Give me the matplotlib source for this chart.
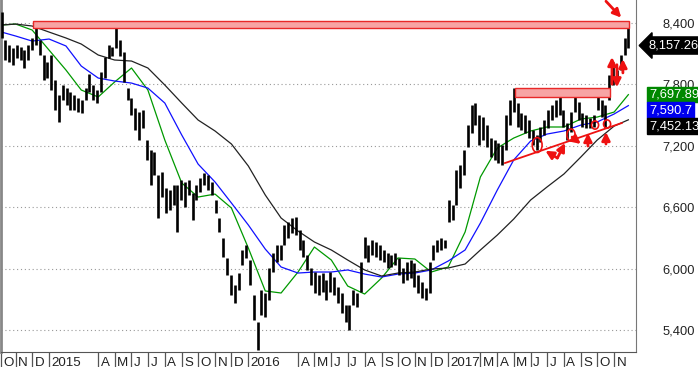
import matplotlib
matplotlib.use('Agg')
import matplotlib.pyplot as plt
import matplotlib.dates as mdates
import matplotlib.transforms as mtransforms
from matplotlib.patches import Rectangle, Ellipse
import pandas as pd

plt.rcParams['font.family'] = ['Liberation Sans', 'DejaVu Sans']

# weekly high / low of the index
bar_dates = pd.date_range('2014-10-06', periods=165, freq='7D')
highs = [8505, 8231, 8183, 8153, 8183, 8163, 8134, 8183, 8251, 8407,
         8231, 8085, 8017, 8085, 7841, 7694, 7792, 7763, 7724, 7694,
         7665, 7646, 7763, 7900, 7792, 7743, 7919, 8065, 8183, 8163,
         8349, 8231, 8114, 7763, 7665, 7567, 7528, 7548, 7255, 7157,
         7138, 6913, 6943, 6787, 6767, 6816, 6816, 6865, 6845, 6865,
         6738, 6816, 6884, 6933, 6913, 6845, 6669, 6494, 6298, 6103,
         5937, 5840, 5957, 6181, 6230, 6084, 5742, 5478, 5791, 5762,
         6006, 6152, 6230, 6230, 6425, 6455, 6494, 6504, 6376, 6279,
         6132, 6006, 5966, 5937, 5957, 5888, 5966, 5918, 5820, 5761,
         5644, 5644, 5791, 5762, 6064, 6308, 6230, 6279, 6259, 6230,
         6181, 6152, 6132, 6152, 6103, 6006, 6064, 6084, 6054, 5937,
         5869, 5810, 6064, 6230, 6279, 6298, 6279, 6669, 6620, 6962,
         7011, 7157, 7402, 7597, 7616, 7499, 7479, 7402, 7275, 7255,
         7226, 7206, 7499, 7646, 7763, 7616, 7519, 7499, 7450, 7353,
         7304, 7382, 7450, 7548, 7597, 7646, 7675, 7548, 7421, 7528,
         7675, 7626, 7519, 7499, 7470, 7499, 7714, 7646, 7597, 7890,
         8017, 7939, 8085, 8251, 8349]
lows = [8251, 8036, 8017, 7987, 8056, 8036, 7958, 8036, 8134, 8183,
        8085, 7841, 7860, 7743, 7548, 7431, 7646, 7597, 7548, 7548,
        7528, 7519, 7646, 7724, 7646, 7616, 7724, 7860, 8056, 8075,
        8153, 8075, 7821, 7646, 7499, 7353, 7255, 7372, 7060, 6816,
        6913, 6494, 6699, 6542, 6572, 6620, 6357, 6669, 6601, 6718,
        6474, 6669, 6747, 6816, 6767, 6718, 6542, 6357, 6113, 5937,
        5742, 5664, 5791, 6035, 6103, 5840, 5498, 5205, 5547, 5527,
        5693, 5966, 6064, 6084, 6230, 6298, 6347, 6328, 6181, 6113,
        5986, 5840, 5761, 5742, 5771, 5693, 5771, 5742, 5664, 5566,
        5478, 5400, 5644, 5625, 5771, 6103, 6064, 6132, 6113, 6084,
        6064, 6006, 6015, 6035, 5937, 5860, 5888, 5908, 5820, 5761,
        5713, 5693, 5761, 6084, 6162, 6181, 6201, 6455, 6474, 6620,
        6787, 6913, 7187, 7323, 7402, 7206, 7255, 7187, 7089, 7060,
        7031, 7011, 7157, 7402, 7528, 7382, 7353, 7323, 7275, 7206,
        7157, 7235, 7304, 7372, 7450, 7479, 7499, 7382, 7255, 7333,
        7528, 7450, 7382, 7372, 7372, 7382, 7548, 7479, 7382, 7646,
        7792, 7821, 7939, 8085, 8153]
last_close = 8157.26

# moving averages, sampled at month starts
ma_dates = pd.DatetimeIndex([pd.Timestamp('2014-10-06')]).append(
    pd.date_range('2014-11-01', '2017-11-01', freq='MS')).append(
    pd.DatetimeIndex([pd.Timestamp('2017-11-27')]))
ma_short = [8378, 8387, 8329, 8133, 7938, 7743, 7675, 7821, 7958, 7743,
            7255, 6835, 6698, 6727, 6591, 6200, 5781, 5761, 5966, 6210,
            6083, 5829, 5751, 5907, 6103, 6093, 5966, 6015, 6357, 6894,
            7177, 7274, 7343, 7382, 7382, 7460, 7479, 7528, 7697.89]
ma_mid = [8309, 8270, 8221, 8241, 8173, 7977, 7860, 7831, 7811, 7762,
          7616, 7304, 7020, 6845, 6640, 6425, 6190, 6015, 5956, 5966,
          5966, 5986, 5946, 5917, 5946, 5956, 5986, 6073, 6181, 6444,
          6767, 7060, 7245, 7313, 7343, 7401, 7431, 7509, 7590.7]
ma_long = [8378, 8387, 8368, 8309, 8251, 8192, 8085, 8036, 8026, 7958,
           7792, 7616, 7450, 7343, 7216, 7001, 6718, 6493, 6366, 6259,
           6181, 6083, 5986, 5927, 5956, 5966, 5995, 6005, 6044, 6181,
           6327, 6483, 6669, 6796, 6923, 7089, 7255, 7391, 7452.13]
tag_texts = ['7,697.89', '7,590.7', '7,452.13']

# x axis month boxes
month_ticks = ['2014-10-05', '2014-11-01', '2014-12-01', '2015-01-01', '2015-04-01',
               '2015-05-01', '2015-06-01', '2015-07-01', '2015-08-01', '2015-09-01',
               '2015-10-01', '2015-11-01', '2015-12-01', '2016-01-01', '2016-04-01',
               '2016-05-01', '2016-06-01', '2016-07-01', '2016-08-01', '2016-09-01',
               '2016-10-01', '2016-11-01', '2016-12-01', '2017-01-01', '2017-03-01',
               '2017-04-01', '2017-05-01', '2017-06-01', '2017-07-01', '2017-08-01',
               '2017-09-01', '2017-10-01', '2017-11-01']
month_labels = ['O', 'N', 'D', '2015', 'A', 'M', 'J', 'J', 'A', 'S', 'O', 'N', 'D',
                '2016', 'A', 'M', 'J', 'J', 'A', 'S', 'O', 'N', 'D',
                '2017', 'M', 'A', 'M', 'J', 'J', 'A', 'S', 'O', 'N']
year_lines = ['2015-01-01', '2016-01-01', '2017-01-01']
price_ticks = [5400, 6000, 6600, 7200, 7800, 8400]

# red drawings
resist_top = (('2014-12-03', '2017-11-28'), (8348, 8413))
resist_mid = (('2017-05-04', '2017-10-24'), (7677, 7760))
trend_line = (['2017-04-15', '2017-11-15'], [7030, 7421])
circles = [('2017-06-13', 7206, 18, 146), ('2017-08-14', 7304, 15, 117),
           ('2017-09-27', 7401, 13, 80), ('2017-10-19', 7411, 13, 80)]
arrows = [(('2017-07-20', 7079), ('2017-06-28', 7150)),
          (('2017-07-20', 7079), ('2017-08-03', 7226)),
          (('2017-08-16', 7284), ('2017-09-01', 7216)),
          (('2017-09-14', 7196), ('2017-09-14', 7323)),
          (('2017-10-17', 7216), ('2017-10-17', 7333)),
          (('2017-10-17', 8610), ('2017-11-14', 8450)),
          (('2017-10-28', 7800), ('2017-10-28', 8065)),
          (('2017-11-06', 7990), ('2017-11-06', 7770)),
          (('2017-11-17', 7910), ('2017-11-17', 8045))]

fig = plt.figure(figsize=(6.98, 3.67), dpi=100)
ax = fig.add_axes([1 / 698, 15 / 367, 635 / 698, 352 / 367])

ax.vlines(bar_dates, lows, highs, color='black', lw=1.9, zorder=3)
ax.plot(ma_dates, ma_short, color='#009900', lw=0.9, zorder=2)
ax.plot(ma_dates, ma_mid, color='#1010ff', lw=0.9, zorder=2)
ax.plot(ma_dates, ma_long, color='#222222', lw=0.9, zorder=2)

for (d0, d1), (p0, p1) in [resist_top, resist_mid]:
    x0 = mdates.date2num(pd.Timestamp(d0))
    x1 = mdates.date2num(pd.Timestamp(d1))
    ax.add_patch(Rectangle((x0, p0), x1 - x0, p1 - p0, fc='#f7a4a4', ec='#e82828', lw=1, zorder=4))
ax.plot(pd.to_datetime(trend_line[0]), trend_line[1], color='#ee1111', lw=1.3, zorder=5)
for d, p, w, h in circles:
    ax.add_patch(Ellipse((mdates.date2num(pd.Timestamp(d)), p), w, h, fill=False, ec='#ee1111', lw=1.2, zorder=5))
for (d0, p0), (d1, p1) in arrows:
    ax.annotate('', xy=(pd.Timestamp(d1), p1), xytext=(pd.Timestamp(d0), p0),
                arrowprops=dict(arrowstyle='-|>', color='#ee1111', lw=2, mutation_scale=12,
                                shrinkA=0, shrinkB=0),
                zorder=6, annotation_clip=False)

ax.set_xlim(pd.Timestamp('2014-10-05'), pd.Timestamp('2017-12-11'))
ax.set_ylim(5185, 8622)

# grid
ax.set_yticks(price_ticks)
ax.set_yticklabels([f'{p:,}' for p in price_ticks])
ax.yaxis.tick_right()
ax.tick_params(axis='y', length=0, pad=19, labelsize=9.3, colors='#222222')
ax.grid(axis='y', linestyle=(0, (1, 2.5)), color='#999999', lw=0.8)
ax.set_xticks(pd.to_datetime(month_ticks))
ax.set_xticklabels(month_labels)
ax.set_xticks(pd.to_datetime(year_lines), minor=True)
ax.grid(axis='x', which='minor', linestyle=(0, (1, 2.5)), color='#999999', lw=0.8)
ax.tick_params(axis='x', which='minor', length=0)
ax.tick_params(axis='x', which='major', length=10.8, width=0.9, color='#555555',
               pad=-7.2, labelsize=9.6, labelcolor='#222222')
shift = mtransforms.ScaledTranslation(2.5 / 100, 0, fig.dpi_scale_trans)
for lab in ax.get_xticklabels():
    lab.set_horizontalalignment('left')
    lab.set_transform(lab.get_transform() + shift)

ax.spines['top'].set_visible(False)
ax.spines['left'].set_color('#888888')
ax.spines['left'].set_linewidth(2)
ax.spines['right'].set_color('#777777')
ax.spines['bottom'].set_color('#555555')

# value tags on the right
tag_trans = mtransforms.blended_transform_factory(ax.transAxes, ax.transData)
ax.annotate(f'{last_close:,.2f}', xy=(1, last_close), xycoords=tag_trans, xytext=(9, 1.5),
            textcoords='offset points', color='white', fontsize=9.3, va='center', ha='left',
            bbox=dict(boxstyle='larrow,pad=0.2', fc='black', ec='black'), annotation_clip=False, zorder=7)
for val, txt, col, dy in zip([ma_short[-1], ma_mid[-1], ma_long[-1]], tag_texts,
                             ['#008800', '#0000ee', 'black'], [0, -3.2, -4.5]):
    ax.annotate(txt, xy=(1, val), xycoords=tag_trans, xytext=(9.4, dy),
                textcoords='offset points', color='white', fontsize=9.3, va='center', ha='left',
                bbox=dict(boxstyle='square,pad=0.13', fc=col, ec=col), annotation_clip=False, zorder=7)

fig.savefig('out.png', dpi=100)
